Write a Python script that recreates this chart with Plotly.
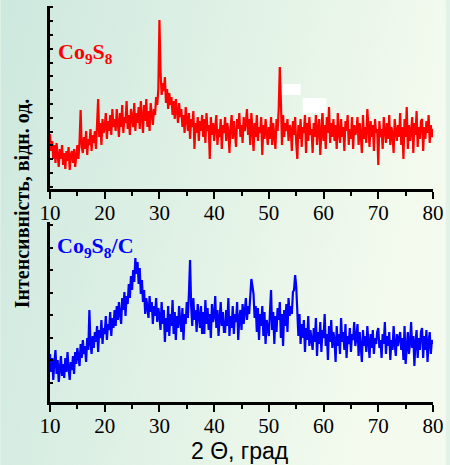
import base64
import plotly.graph_objects as go

# ---------------- data ----------------
theta_start = 10.0
theta_step = 0.2

co9s8 = [
    55, 38, 48, 30, 44, 26, 46, 34, 22, 40, 30, 44, 24, 36, 20, 38, 28, 42, 19, 34,
    38, 26, 40, 22, 35, 44, 30, 48, 79, 42, 36, 52, 40, 58, 34, 50, 44, 60, 38, 54,
    46, 58, 40, 62, 90, 52, 66, 44, 70, 56, 62, 76, 50, 68, 58, 74, 54, 80, 62, 70,
    58, 80, 64, 52, 76, 62, 84, 56, 72, 66, 88, 60, 74, 54, 80, 68, 62, 86, 58, 76,
    66, 82, 60, 88, 72, 56, 84, 68, 90, 62, 78, 58, 86, 70, 64, 80, 74, 92, 84, 100,
    169, 118, 94, 106, 98, 112, 86, 100, 80, 96, 84, 92, 74, 88, 70, 90, 78, 66, 86, 72,
    80, 62, 74, 56, 82, 66, 58, 76, 50, 70, 62, 78, 40, 66, 56, 72, 48, 68, 58, 74,
    52, 70, 46, 76, 58, 64, 30, 72, 54, 66, 48, 62, 74, 44, 60, 52, 70, 40, 64, 56,
    72, 48, 66, 58, 36, 62, 74, 50, 68, 56, 42, 70, 60, 76, 52, 64, 46, 72, 58, 66,
    80, 54, 70, 44, 76, 60, 38, 66, 52, 74, 48, 62, 56, 72, 34, 64, 50, 70, 58, 44,
    62, 50, 72, 44, 66, 56, 40, 70, 58, 80, 122, 88, 44, 74, 52, 66, 58, 70, 48, 64,
    60, 38, 68, 54, 72, 46, 30, 64, 50, 70, 42, 62, 56, 74, 36, 66, 48, 72, 54, 60,
    36, 66, 52, 74, 44, 60, 70, 34, 58, 78, 48, 64, 40, 72, 56, 82, 46, 66, 52, 70,
    48, 64, 40, 76, 56, 46, 70, 52, 62, 38, 68, 58, 74, 44, 60, 50, 72, 40, 64, 54,
    58, 72, 44, 66, 54, 36, 74, 50, 62, 46, 80, 56, 42, 68, 52, 64, 38, 70, 56, 60,
    24, 68, 52, 60, 40, 72, 56, 46, 66, 50, 74, 44, 62, 54, 36, 70, 58, 48, 64, 52,
    76, 44, 62, 30, 70, 52, 82, 40, 64, 48, 58, 72, 36, 66, 54, 78, 42, 62, 50, 68,
    70, 38, 62, 50, 68, 56, 74, 46, 64, 52, 60,
]

co9s8_c = [
    48, 30, 44, 22, 40, 52, 28, 42, 20, 36, 46, 26, 38, 24, 44, 30, 50, 34, 22, 40,
    32, 46, 28, 50, 38, 54, 42, 36, 58, 44, 62, 48, 56, 40, 64, 52, 92, 58, 48, 66,
    54, 70, 60, 76, 50, 72, 64, 82, 58, 74, 68, 86, 62, 78, 72, 90, 66, 84, 74, 92,
    76, 96, 82, 100, 88, 78, 104, 92, 110, 86, 106, 98, 118, 104, 126, 112, 132, 120, 144, 128,
    140, 118, 134, 108, 122, 100, 112, 88, 104, 94, 84, 106, 90, 100, 78, 96, 86, 104, 80, 94,
    86, 72, 100, 78, 92, 60, 84, 70, 96, 66, 88, 76, 102, 68, 90, 62, 86, 74, 96, 80,
    70, 94, 62, 88, 78, 100, 84, 110, 142, 96, 76, 104, 82, 92, 70, 98, 84, 74, 96, 68,
    90, 68, 102, 78, 94, 72, 88, 64, 98, 80, 86, 106, 74, 92, 66, 84, 100, 76, 90, 70,
    70, 92, 76, 104, 66, 86, 74, 96, 68, 88, 80, 100, 62, 84, 92, 72, 98, 78, 88, 104,
    82, 96, 88, 108, 123, 116, 108, 84, 96, 70, 94, 62, 88, 76, 96, 66, 90, 58, 82, 74,
    66, 90, 112, 72, 90, 58, 86, 70, 94, 82, 100, 64, 88, 56, 92, 76, 98, 70, 104, 86,
    96, 88, 110, 112, 127, 116, 84, 66, 88, 58, 78, 64, 82, 50, 74, 62, 86, 56, 72, 60,
    52, 74, 60, 84, 46, 70, 58, 80, 50, 72, 64, 88, 56, 68, 42, 76, 60, 82, 54, 70,
    62, 40, 76, 56, 68, 48, 84, 60, 70, 52, 78, 44, 66, 58, 74, 50, 68, 62, 80, 56,
    64, 78, 46, 70, 58, 40, 72, 56, 66, 50, 76, 60, 44, 68, 54, 72, 48, 64, 58, 70,
    74, 54, 62, 44, 68, 58, 80, 48, 66, 56, 70, 42, 62, 52, 76, 58, 46, 68, 56, 64,
    70, 52, 64, 42, 76, 38, 62, 70, 48, 58, 80, 54, 66, 36, 60, 72, 44, 64, 52, 70,
    74, 44, 66, 52, 72, 40, 60, 70, 48, 62, 58,
]

two_theta = [round(theta_start + theta_step * i, 2) for i in range(len(co9s8))]

x_ticks = [10, 20, 30, 40, 50, 60, 70, 80]
label_top = "<b>Co<sub>9</sub>S<sub>8</sub></b>"
label_bottom = "<b>Co<sub>9</sub>S<sub>8</sub>/C</b>"
y_title = "Інтенсивність, відн. од."
x_title = "2 Θ, град"

# white patches present in the original picture (top panel, data coords)
white_patches = [(52.5, 55.8, 94, 105), (56.2, 60.5, 76, 91)]

# ---------------- figure ----------------
W, H = 450, 465
ML, MR, MT, MB = 50, 13, 6, 63
PW, PH = W - ML - MR, H - MT - MB


def px_x(p):
    return (p - ML) / PW


def px_y(p):
    return (H - MB - p) / PH


fig = go.Figure()
fig.add_trace(go.Scatter(x=two_theta, y=co9s8, mode="lines",
                         line=dict(color="#ff0000", width=2.2),
                         xaxis="x", yaxis="y", showlegend=False))
fig.add_trace(go.Scatter(x=two_theta, y=co9s8_c, mode="lines",
                         line=dict(color="#0000ff", width=2.2),
                         xaxis="x2", yaxis="y2", showlegend=False))

tick_font = dict(family="Liberation Serif", size=21, color="black")
xax = dict(range=[10, 80], tickvals=x_ticks, ticks="outside", ticklen=7,
           tickwidth=2, tickcolor="black", showline=True, linewidth=3,
           linecolor="black", showgrid=False, zeroline=False,
           tickfont=tick_font, ticklabelstandoff=-4,
           minor=dict(ticks="outside", ticklen=4, tickwidth=2,
                      tickcolor="black", tick0=15, dtick=10, showgrid=False))
yax = dict(showticklabels=False, ticks="inside", ticklen=3, tickwidth=2,
           tickcolor="black", showline=True, linewidth=3, linecolor="black",
           showgrid=False, zeroline=False)

top_domain = [px_y(189), 1.0]
bot_domain = [0.0, px_y(222)]

fig.update_layout(
    width=W, height=H,
    margin=dict(l=ML, r=MR, t=MT, b=MB, pad=0),
    paper_bgcolor="#e2f2e6",
    plot_bgcolor="rgba(0,0,0,0)",
    xaxis=dict(xax, anchor="y", domain=[0, 1]),
    yaxis=dict(yax, anchor="x", domain=top_domain, range=[0, 183],
               tick0=16, dtick=13.8),
    xaxis2=dict(xax, anchor="y2", domain=[0, 1]),
    yaxis2=dict(yax, anchor="x2", domain=bot_domain, range=[0, 180],
                tick0=19.5, dtick=22.5),
)

# gradient background as an inline svg image
svg = ('<svg xmlns="http://www.w3.org/2000/svg" width="450" height="465" '
       'preserveAspectRatio="none">'
       '<defs><linearGradient id="g" x1="0" y1="0" x2="1" y2="0.25">'
       '<stop offset="0" stop-color="#cde8df"/>'
       '<stop offset="0.5" stop-color="#e0f1e5"/>'
       '<stop offset="1" stop-color="#f4fbee"/>'
       '</linearGradient></defs>'
       '<rect width="450" height="465" fill="url(#g)"/></svg>')
src = "data:image/svg+xml;base64," + base64.b64encode(svg.encode()).decode()
fig.add_layout_image(dict(source=src, xref="paper", yref="paper",
                          x=px_x(0), y=px_y(0), sizex=W / PW, sizey=H / PH,
                          xanchor="left", yanchor="top", sizing="stretch",
                          layer="below"))

for x0, x1, y0, y1 in white_patches:
    fig.add_shape(type="rect", xref="x", yref="y", x0=x0, x1=x1, y0=y0, y1=y1,
                  fillcolor="white", line=dict(width=0), layer="above")

fig.add_annotation(text=label_top, xref="paper", yref="paper",
                   x=px_x(56), y=px_y(37), xanchor="left", yanchor="top",
                   showarrow=False,
                   font=dict(family="Liberation Serif", size=22, color="#ff0000"))
fig.add_annotation(text=label_bottom, xref="paper", yref="paper",
                   x=px_x(55), y=px_y(231), xanchor="left", yanchor="top",
                   showarrow=False,
                   font=dict(family="Liberation Serif", size=22, color="#0000ff"))
fig.add_annotation(text="<b>" + y_title + "</b>", xref="paper", yref="paper",
                   x=px_x(22), y=px_y(203), xanchor="center", yanchor="middle",
                   textangle=-90, showarrow=False,
                   font=dict(family="Liberation Serif", size=20, color="black"))
fig.add_annotation(text=x_title, xref="paper", yref="paper",
                   x=px_x(242), y=px_y(451), xanchor="center", yanchor="middle",
                   showarrow=False,
                   font=dict(family="Liberation Sans", size=23, color="black"))

fig.write_html("out.html")
